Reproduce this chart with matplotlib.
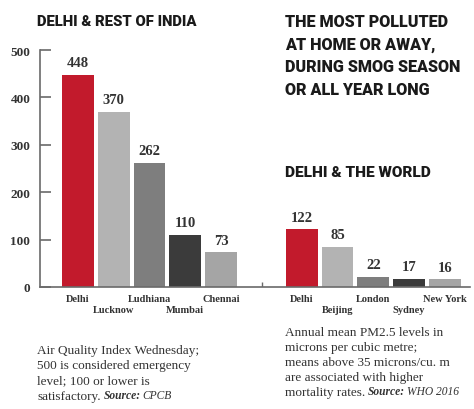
#!/usr/bin/env python3
"""Air quality: Delhi vs rest of India and vs the world."""

import matplotlib

matplotlib.use("Agg")
import matplotlib.pyplot as plt

INDIA_CITIES = ["Delhi", "Lucknow", "Ludhiana", "Mumbai", "Chennai"]
INDIA_AQI = [448, 370, 262, 110, 73]

WORLD_CITIES = ["Delhi", "Beijing", "London", "Sydney", "New York"]
WORLD_PM25 = [122, 85, 22, 17, 16]

Y_TICKS = [0, 100, 200, 300, 400, 500]

BAR_COLORS = ["#c21a2c", "#b3b3b3", "#7e7e7e", "#3b3b3b", "#a5a5a5"]
TEXT_COLOR = "#333333"
AXIS_COLOR = "#6a6a6a"

TITLE_FONT = ["Roboto", "DejaVu Sans"]
SERIF_FONT = ["Liberation Serif", "DejaVu Serif"]

WORLD_OFFSET = 6.25
BAR_WIDTH = 0.89

W, H = 474, 410


def text_width(fig, text):
    return text.get_window_extent(fig.canvas.get_renderer()).width


def heading(fig, x, y, label, width_px, va="center", linespacing=1.2):
    text = fig.text(x / W, 1 - y / H, label, family=TITLE_FONT,
                    fontweight="black", fontsize=13, color="#1a1a1a",
                    va=va, ha="left", linespacing=linespacing)
    text.set_fontsize(text.get_fontsize() * width_px / text_width(fig, text))
    return text


def note(fig, x, y, lines, source, ref, pitch_px=15.5):
    style = dict(family=SERIF_FONT, fontsize=9.5, color=TEXT_COLOR)
    body = fig.text(x / W, 1 - y / H, "\n".join(lines[:-1]), va="top",
                    ha="left", linespacing=1.34, **style)
    pitch_pt = pitch_px * 72 / fig.dpi

    last = plt.annotate(lines[-1], xy=(0, 0), xycoords=body,
                        xytext=(0, -pitch_pt), textcoords="offset points",
                        va="bottom", ha="left", **style)
    src_style = dict(style, fontsize=8.3)
    src = plt.annotate(source, xy=(1, 0), xycoords=last, xytext=(2, 0.6),
                       textcoords="offset points", va="bottom", ha="left",
                       fontstyle="italic", fontweight="bold", **src_style)
    plt.annotate(ref, xy=(1, 0), xycoords=src, xytext=(1.5, 0),
                 textcoords="offset points", va="bottom", ha="left",
                 fontstyle="italic", **src_style)


def main() -> None:
    fig = plt.figure(figsize=(W / 100, H / 100), dpi=100)
    ax = fig.add_axes([40 / W, 122 / H, 430 / W, 237 / H])

    india_x = list(range(len(INDIA_CITIES)))
    world_x = [WORLD_OFFSET + i for i in range(len(WORLD_CITIES))]

    ax.bar(india_x, INDIA_AQI, width=BAR_WIDTH, color=BAR_COLORS, zorder=2)
    ax.bar(world_x, WORLD_PM25, width=BAR_WIDTH, color=BAR_COLORS, zorder=2)

    ax.set_xlim(-1.06, WORLD_OFFSET + 4.7)
    ax.set_ylim(0, 500)

    for spine in ["top", "right"]:
        ax.spines[spine].set_visible(False)
    for spine in ["left", "bottom"]:
        ax.spines[spine].set_color(AXIS_COLOR)
        ax.spines[spine].set_linewidth(1.2)

    ax.set_yticks(Y_TICKS)
    ax.set_yticklabels([str(t) for t in Y_TICKS])
    ax.tick_params(axis="y", direction="in", length=8, width=1.2,
                   color=AXIS_COLOR, pad=7, labelcolor=TEXT_COLOR)
    for label in ax.get_yticklabels():
        label.set_family(SERIF_FONT)
        label.set_fontweight("bold")
        label.set_fontsize(9.5)
    ax.set_xticks([])

    # small leftover tick where the world chart starts
    ax.vlines(WORLD_OFFSET - 1.1, 0, 10, color=AXIS_COLOR, lw=1.0)

    # value labels and staggered city names
    for xs, values, names in [(india_x, INDIA_AQI, INDIA_CITIES),
                              (world_x, WORLD_PM25, WORLD_CITIES)]:
        for i, (x, v, name) in enumerate(zip(xs, values, names)):
            ax.annotate(str(v), (x, v), xytext=(0, 4),
                        textcoords="offset points", ha="center", va="bottom",
                        fontsize=10.5, family=SERIF_FONT, fontweight="bold",
                        color=TEXT_COLOR, annotation_clip=False)
            drop = 8 if i % 2 == 0 else 16
            ax.annotate(name, (x, 0), xytext=(0, -drop),
                        textcoords="offset points", ha="center", va="center",
                        fontsize=7.5, family=SERIF_FONT, fontweight="bold",
                        color=TEXT_COLOR, annotation_clip=False)

    # headings
    heading(fig, 37, 22, "DELHI & REST OF INDIA", 160)
    heading(fig, 285, 14,
            "THE MOST POLLUTED\nAT HOME OR AWAY,\nDURING SMOG SEASON\nOR ALL YEAR LONG",
            176, va="top", linespacing=1.5)
    heading(fig, 285, 173, "DELHI & THE WORLD", 146)

    # notes
    note(fig, 37, 345,
         ["Air Quality Index Wednesday;", "500 is considered emergency",
          "level; 100 or lower is", "satisfactory."],
         "Source:", "CPCB", pitch_px=15.8)
    note(fig, 285, 327,
         ["Annual mean PM2.5 levels in", "microns per cubic metre;",
          "means above 35 microns/cu. m", "are associated with higher",
          "mortality rates."],
         "Source:", "WHO 2016", pitch_px=14.8)

    fig.savefig("out.png", dpi=100)
    plt.close(fig)


if __name__ == "__main__":
    main()
